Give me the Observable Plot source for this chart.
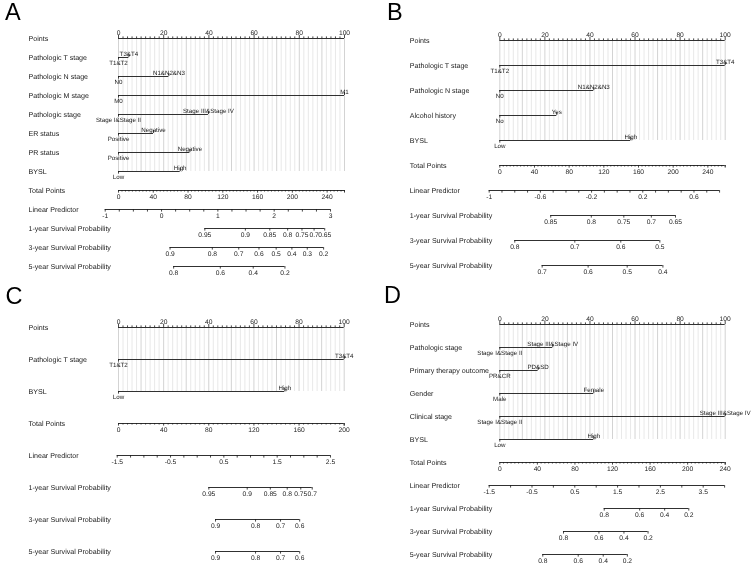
<!DOCTYPE html>
<html><head><meta charset="utf-8">
<script src="https://cdn.jsdelivr.net/npm/d3@7"></script>
<script src="https://cdn.jsdelivr.net/npm/@observablehq/plot@0.6"></script>
<style>
body{margin:0;background:#fff;}
#fig{position:relative;width:753px;height:565px;overflow:hidden;font-family:"Liberation Sans",Arial,sans-serif;background:#fff;filter:grayscale(1);}
.panel{position:absolute;}
.panel svg text{text-rendering:geometricPrecision;}
.letter{position:absolute;font-size:23.5px;line-height:1;color:#000;font-family:"Liberation Sans",Arial,sans-serif;}
</style></head><body><div id="fig"></div>
<script>
// ---------- shared axis tick labels ----------
const pointsLabels = [0, 20, 40, 60, 80, 100];
const pointsMinorStep = 2;
const gridMajorStep = 10;
const survNames = ["1-year Survival Probability", "3-year Survival Probability", "5-year Survival Probability"];

// ---------- Panel A ----------
const aVariables = ["Pathologic T stage", "Pathologic N stage", "Pathologic M stage", "Pathologic stage", "ER status", "PR status", "BYSL"];
const aLowLevels = ["T1&T2", "N0", "M0", "Stage I&Stage II", "Positive", "Positive", "Low"];
const aHighLevels = ["T3&T4", "N1&N2&N3", "M1", "Stage III&Stage IV", "Negative", "Negative", "High"];
const aHighPoints = [4.6, 22.3, 100, 39.8, 15.5, 31.6, 27.3];
const aTotalMax = 260;
const aTotalLabels = [0, 40, 80, 120, 160, 200, 240];
const aLpRange = [-1, 3];
const aLpLabels = [-1, 0, 1, 2, 3];
const aLpAtTotal = [-0.764, 3.248];
const aBaseline = [0.9765, 0.9134, 0.8353];
const aSurv1 = [0.95, 0.9, 0.85, 0.8, 0.75, 0.7, 0.65];
const aSurv3 = [0.9, 0.8, 0.7, 0.6, 0.5, 0.4, 0.3, 0.2];
const aSurv5 = [0.8, 0.6, 0.4, 0.2];

// ---------- Panel B ----------
const bVariables = ["Pathologic T stage", "Pathologic N stage", "Alcohol history", "BYSL"];
const bLowLevels = ["T1&T2", "N0", "No", "Low"];
const bHighLevels = ["T3&T4", "N1&N2&N3", "Yes", "High"];
const bHighPoints = [100, 41.7, 25.3, 58.1];
const bTotalMax = 260;
const bTotalLabels = [0, 40, 80, 120, 160, 200, 240];
const bLpRange = [-1, 0.8];
const bLpLabels = [-1, -0.6, -0.2, 0.2, 0.6];
const bLpAtTotal = [-0.917, 0.844];
const bBaseline = [0.761, 0.6086, 0.5268];
const bSurv1 = [0.85, 0.8, 0.75, 0.7, 0.65];
const bSurv3 = [0.8, 0.7, 0.6, 0.5];
const bSurv5 = [0.7, 0.6, 0.5, 0.4];

// ---------- Panel C ----------
const cVariables = ["Pathologic T stage", "BYSL"];
const cLowLevels = ["T1&T2", "Low"];
const cHighLevels = ["T3&T4", "High"];
const cHighPoints = [100, 73.7];
const cTotalMax = 200;
const cTotalLabels = [0, 40, 80, 120, 160, 200];
const cLpRange = [-1.5, 2.5];
const cLpLabels = [-1.5, -0.5, 0.5, 1.5, 2.5];
const cLpAtTotal = [-1.476, 2.757];
const cBaseline = [0.9596, 0.928, 0.928];
const cSurv1 = [0.95, 0.9, 0.85, 0.8, 0.75, 0.7];
const cSurv3 = [0.9, 0.8, 0.7, 0.6];
const cSurv5 = [0.9, 0.8, 0.7, 0.6];

// ---------- Panel D ----------
const dVariables = ["Pathologic stage", "Primary therapy outcome", "Gender", "Clinical stage", "BYSL"];
const dLowLevels = ["Stage I&Stage II", "PR&CR", "Male", "Stage I&Stage II", "Low"];
const dHighLevels = ["Stage III&Stage IV", "PD&SD", "Female", "Stage III&Stage IV", "High"];
const dHighPoints = [23.5, 17.0, 41.7, 100, 41.7];
const dTotalMax = 240;
const dTotalLabels = [0, 40, 80, 120, 160, 200, 240];
const dLpRange = [-1.5, 4.0];
const dLpLabels = [-1.5, -0.5, 0.5, 1.5, 2.5, 3.5];
const dLpAtTotal = [-1.252, 4.014];
const dBaseline = [0.9342, 0.8384, 0.7513];
const dSurv1 = [0.8, 0.6, 0.4, 0.2];
const dSurv3 = [0.8, 0.6, 0.4, 0.2];
const dSurv5 = [0.8, 0.6, 0.4, 0.2];

const panels = [
  {letter: "A", d: {variables: aVariables, low: aLowLevels, high: aHighLevels, pts: aHighPoints, totalMax: aTotalMax, totalLabels: aTotalLabels, totalStep: 4, lpRange: aLpRange, lpLabels: aLpLabels, lpStep: 0.25, lpAtTotal: aLpAtTotal, baseline: aBaseline, surv: [aSurv1, aSurv3, aSurv5]},
   L: {left: 0, top: 0, w: 376, h: 282, xr: [118, 344], yr: [37.3, 267.7], lx: 28, letterX: 5, letterY: 1}},
  {letter: "B", d: {variables: bVariables, low: bLowLevels, high: bHighLevels, pts: bHighPoints, totalMax: bTotalMax, totalLabels: bTotalLabels, totalStep: 4, lpRange: bLpRange, lpLabels: bLpLabels, lpStep: 0.1, lpAtTotal: bLpAtTotal, baseline: bBaseline, surv: [bSurv1, bSurv3, bSurv5]},
   L: {left: 376, top: 0, w: 377, h: 282, xr: [123.3, 348.7], yr: [37.7, 267.7], lx: 33.3, letterX: 11, letterY: 1}},
  {letter: "C", d: {variables: cVariables, low: cLowLevels, high: cHighLevels, pts: cHighPoints, totalMax: cTotalMax, totalLabels: cTotalLabels, totalStep: 4, lpRange: cLpRange, lpLabels: cLpLabels, lpStep: 0.25, lpAtTotal: cLpAtTotal, baseline: cBaseline, surv: [cSurv1, cSurv3, cSurv5]},
   L: {left: 0, top: 282, w: 376, h: 283, xr: [118, 343.7], yr: [41.3, 272], lx: 28, letterX: 5.5, letterY: 3}},
  {letter: "D", d: {variables: dVariables, low: dLowLevels, high: dHighLevels, pts: dHighPoints, totalMax: dTotalMax, totalLabels: dTotalLabels, totalStep: 4, lpRange: dLpRange, lpLabels: dLpLabels, lpStep: 0.5, lpAtTotal: dLpAtTotal, baseline: dBaseline, surv: [dSurv1, dSurv3, dSurv5]},
   L: {left: 376, top: 282, w: 377, h: 283, xr: [123.3, 348.7], yr: [41, 272], lx: 33.3, letterX: 8, letterY: 2}}
];

function seq(a, b, step) {
  const out = [], n = Math.round((b - a) / step);
  for (let i = 0; i <= n; i++) out.push(+(a + i * step).toFixed(6));
  return out;
}

const INK = "#1a1a1a";
const FONT = "Liberation Sans, Arial, sans-serif";

function build(d, L) {
  const rows = ["Points", ...d.variables, "Total Points", "Linear Predictor", ...survNames];
  const lastVar = d.variables[d.variables.length - 1];
  const tp = t => t / d.totalMax * 100;
  const lp = l => (l - d.lpAtTotal[0]) / (d.lpAtTotal[1] - d.lpAtTotal[0]) * 100;
  const sp = (s, s0) => lp(Math.log(Math.log(s) / Math.log(s0)));

  const lines = [], upMajor = [], upMinor = [], downMajor = [], downMinor = [], labAbove = [], labBelow = [], levAbove = [], levBelow = [];

  lines.push({row: "Points", x1: 0, x2: 100});
  seq(0, 100, pointsMinorStep).forEach(v => {
    if (pointsLabels.includes(v)) upMajor.push({row: "Points", x: v});
    else upMinor.push({row: "Points", x: v});
  });
  pointsLabels.forEach(v => labAbove.push({row: "Points", x: v, text: String(v)}));

  d.variables.forEach((name, i) => {
    lines.push({row: name, x1: 0, x2: d.pts[i]});
    downMajor.push({row: name, x: 0});
    upMajor.push({row: name, x: d.pts[i]});
    levBelow.push({row: name, x: 0, text: d.low[i]});
    levAbove.push({row: name, x: d.pts[i], text: d.high[i]});
  });

  lines.push({row: "Total Points", x1: 0, x2: tp(d.totalMax)});
  seq(0, d.totalMax, d.totalStep).forEach(v => {
    if (d.totalLabels.includes(v)) downMajor.push({row: "Total Points", x: tp(v)});
    else downMinor.push({row: "Total Points", x: tp(v)});
  });
  downMajor.push({row: "Total Points", x: tp(d.totalMax)});
  d.totalLabels.forEach(v => labBelow.push({row: "Total Points", x: tp(v), text: String(v)}));

  lines.push({row: "Linear Predictor", x1: lp(d.lpRange[0]), x2: lp(d.lpRange[1])});
  seq(d.lpRange[0], d.lpRange[1], d.lpStep).forEach(v => downMajor.push({row: "Linear Predictor", x: lp(v)}));
  d.lpLabels.forEach(v => labBelow.push({row: "Linear Predictor", x: lp(v), text: String(v)}));

  survNames.forEach((name, k) => {
    const ticks = d.surv[k], s0 = d.baseline[k];
    lines.push({row: name, x1: sp(ticks[0], s0), x2: sp(ticks[ticks.length - 1], s0)});
    ticks.forEach(v => {
      downMajor.push({row: name, x: sp(v, s0)});
      labBelow.push({row: name, x: sp(v, s0), text: String(v)});
    });
  });

  const gridMajor = seq(0, 100, gridMajorStep);
  const gridMinor = seq(0, 100, pointsMinorStep).filter(v => !gridMajor.includes(v));

  const tickOpts = {x: "x", y1: "row", y2: "row", stroke: INK, strokeWidth: 0.8};

  return Plot.plot({
    width: L.w, height: L.h,
    marginTop: 0, marginRight: 0, marginBottom: 0, marginLeft: 0,
    x: {domain: [0, 100], range: L.xr, axis: null},
    y: {type: "point", domain: rows, range: L.yr, padding: 0, axis: null},
    style: {fontFamily: FONT, background: "#ffffff", overflow: "visible", color: INK},
    marks: [
      Plot.ruleX(gridMinor, {x: v => v, y1: () => "Points", y2: () => lastVar, stroke: "#e2e2e2", strokeWidth: 0.8}),
      Plot.ruleX(gridMajor, {x: v => v, y1: () => "Points", y2: () => lastVar, stroke: "#c8c8c8", strokeWidth: 0.8}),
      Plot.ruleY(lines, {y: "row", x1: "x1", x2: "x2", stroke: INK, strokeWidth: 0.9}),
      Plot.ruleX(upMajor, {...tickOpts, insetTop: -3, insetBottom: 0}),
      Plot.ruleX(upMinor, {...tickOpts, insetTop: -1.6, insetBottom: 0}),
      Plot.ruleX(downMajor, {...tickOpts, insetTop: 0, insetBottom: -2.6}),
      Plot.ruleX(downMinor, {...tickOpts, insetTop: 0, insetBottom: -1.5}),
      Plot.text(rows, {y: r => r, text: r => r, frameAnchor: "left", textAnchor: "start", dx: L.lx, fontSize: 7.1, fill: INK}),
      Plot.text(labAbove, {x: "x", y: "row", text: "text", lineAnchor: "bottom", dy: -3.3, fontSize: 6.7, fill: INK}),
      Plot.text(labBelow, {x: "x", y: "row", text: "text", lineAnchor: "top", dy: 3.3, fontSize: 6.7, fill: INK}),
      Plot.text(levAbove, {x: "x", y: "row", text: "text", lineAnchor: "bottom", dy: -2, fontSize: 6.2, fill: INK}),
      Plot.text(levBelow, {x: "x", y: "row", text: "text", lineAnchor: "top", dy: 3, fontSize: 6.2, fill: INK})
    ]
  });
}

const fig = document.getElementById("fig");
panels.forEach(p => {
  const div = document.createElement("div");
  div.className = "panel";
  div.style.left = p.L.left + "px";
  div.style.top = p.L.top + "px";
  div.appendChild(build(p.d, p.L));
  fig.appendChild(div);
  const lt = document.createElement("div");
  lt.className = "letter";
  lt.textContent = p.letter;
  lt.style.left = (p.L.left + p.L.letterX) + "px";
  lt.style.top = (p.L.top + p.L.letterY) + "px";
  fig.appendChild(lt);
});
</script></body></html>
